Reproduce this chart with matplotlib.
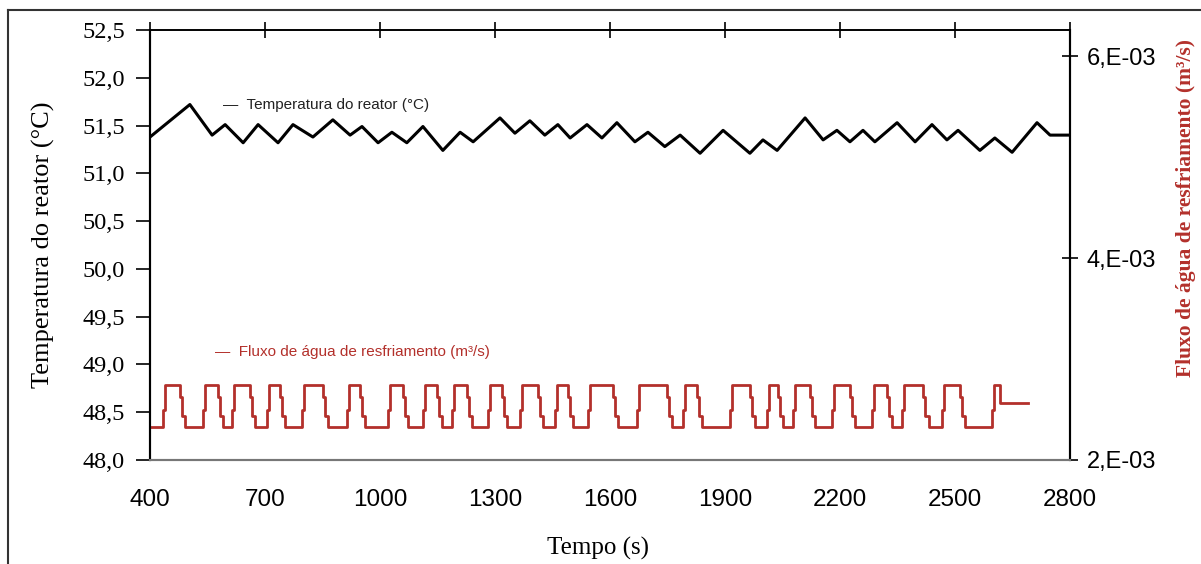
import matplotlib
matplotlib.use("Agg")
import matplotlib.pyplot as plt
from matplotlib.lines import Line2D
from matplotlib.ticker import FixedLocator, FixedFormatter


# ---------------------------------------------------------
# Data
# ---------------------------------------------------------
temp_t = [400, 504, 562, 596, 643, 682, 734, 773, 825, 877, 922, 953, 995,
          1031, 1070, 1112, 1164, 1209, 1243, 1313, 1352, 1391, 1430, 1464,
          1496, 1540, 1579, 1618, 1665, 1699, 1743, 1783, 1835, 1895, 1965,
          1999, 2036, 2109, 2156, 2192, 2226, 2260, 2291, 2349, 2396, 2440,
          2479, 2508, 2565, 2604, 2649, 2714, 2748, 2795]
temp_v = [51.38, 51.72, 51.40, 51.51, 51.32, 51.51, 51.32, 51.51, 51.38,
          51.56, 51.40, 51.49, 51.32, 51.43, 51.32, 51.49, 51.24, 51.43,
          51.33, 51.58, 51.42, 51.55, 51.40, 51.51, 51.37, 51.51, 51.37,
          51.53, 51.33, 51.43, 51.28, 51.40, 51.21, 51.45, 51.21, 51.35,
          51.24, 51.58, 51.35, 51.45, 51.33, 51.45, 51.33, 51.53, 51.33,
          51.51, 51.35, 51.45, 51.24, 51.37, 51.22, 51.53, 51.40, 51.40]

# cooling water flow (m3/s), step signal
flux_t = [400,
          434, 440, 478, 484, 492,
          538, 544, 577, 583, 591,
          614, 620, 661, 667, 675,
          705, 711, 739, 745, 753,
          797, 803, 851, 857, 865,
          914, 920, 948, 954, 962,
          1021, 1027, 1060, 1066, 1074,
          1112, 1118, 1149, 1155, 1163,
          1188, 1194, 1227, 1233, 1241,
          1282, 1288, 1318, 1324, 1332,
          1365, 1371, 1412, 1418, 1426,
          1457, 1463, 1490, 1496, 1504,
          1543, 1549, 1608, 1614, 1622,
          1670, 1676, 1749, 1755, 1763,
          1790, 1796, 1827, 1833, 1841,
          1913, 1919, 1965, 1971, 1979,
          2010, 2016, 2038, 2044, 2052,
          2077, 2083, 2122, 2128, 2136,
          2179, 2185, 2226, 2232, 2240,
          2283, 2289, 2323, 2329, 2337,
          2362, 2368, 2417, 2423, 2431,
          2466, 2472, 2513, 2519, 2527,
          2597, 2603, 2617, 2690]
flux_v = [2.33e-3] + [2.50e-3, 2.74e-3, 2.62e-3, 2.44e-3, 2.33e-3] * 22 + \
         [2.50e-3, 2.74e-3, 2.56e-3, 2.56e-3]

x_ticks = [400, 700, 1000, 1300, 1600, 1900, 2200, 2500, 2800]
y_ticks = [48.0, 48.5, 49.0, 49.5, 50.0, 50.5, 51.0, 51.5, 52.0, 52.5]
y2_ticks = [2e-3, 4e-3, 6e-3]
y2_labels = ["2,E-03", "4,E-03", "6,E-03"]

red = "#b3302b"
serif = "Liberation Serif"
sans = "Liberation Sans"

# ---------------------------------------------------------
# Figure
# ---------------------------------------------------------
fig = plt.figure(figsize=(12.01, 5.64), dpi=100)
ax = fig.add_axes([0.1249, 0.1844, 0.766, 0.7624])
ax2 = ax.twinx()

ax.plot(temp_t, temp_v, color="black", lw=2.2, zorder=3)
ax2.plot(flux_t, flux_v, color=red, lw=2.0, drawstyle="steps-post")

ax.set_xlim(400, 2800)
ax.set_ylim(48.0, 52.5)
ax2.set_ylim(2e-3, 6.26e-3)

# x axis: ticks on top, labels at bottom
ax.set_xticks(x_ticks)
ax.set_xticklabels([str(v) for v in x_ticks], family=sans, fontsize=17.5)
ax.tick_params(axis="x", top=True, bottom=False, direction="inout",
               length=12, width=1.2, pad=15)

ax.set_yticks(y_ticks)
ax.set_yticklabels([f"{v:.1f}".replace(".", ",") for v in y_ticks],
                   family=serif, fontsize=17.5)
ax.tick_params(axis="y", direction="out", length=10, width=1.2, pad=8)

ax2.yaxis.set_major_locator(FixedLocator(y2_ticks))
ax2.yaxis.set_major_formatter(FixedFormatter(y2_labels))
for lbl in ax2.get_yticklabels():
    lbl.set_family(sans)
    lbl.set_fontsize(17)
ax2.tick_params(axis="y", direction="inout", length=12, width=1.2, pad=6)

for a in (ax, ax2):
    a.spines["left"].set_linewidth(1.5)
    a.spines["right"].set_linewidth(1.5)
    a.spines["top"].set_linewidth(1.2)
    a.spines["bottom"].set_color("#777777")
    a.spines["bottom"].set_linewidth(1.5)

ax.set_xlabel("Tempo (s)", family=serif, fontsize=18)
ax.xaxis.set_label_coords(0.487, -0.18)
ax.set_ylabel("Temperatura do reator (°C)", family=serif, fontsize=19)
ax.yaxis.set_label_coords(-0.103, 0.5)
ax2.set_ylabel("Fluxo de água de resfriamento (m³/s)", family=serif,
               fontsize=15.5, fontweight="bold", color=red)
ax2.yaxis.set_label_coords(1.115, 0.586)

# legend entries written inside the plot
ax.text(0.079, 0.826, "—  Temperatura do reator (°C)", transform=ax.transAxes,
        family=sans, fontsize=11, color="#222222", va="center")
ax.text(0.071, 0.251, "—  Fluxo de água de resfriamento (m³/s)",
        transform=ax.transAxes, family=sans, fontsize=11, color=red,
        va="center")

# outer frame of the scanned figure
fig.add_artist(Line2D([8 / 1201, 8 / 1201], [0, 1 - 10 / 564],
                      transform=fig.transFigure, color="#333333", lw=1.5))
fig.add_artist(Line2D([8 / 1201, 1], [1 - 10 / 564, 1 - 10 / 564],
                      transform=fig.transFigure, color="#333333", lw=1.5))

fig.savefig("out.png", dpi=100)
